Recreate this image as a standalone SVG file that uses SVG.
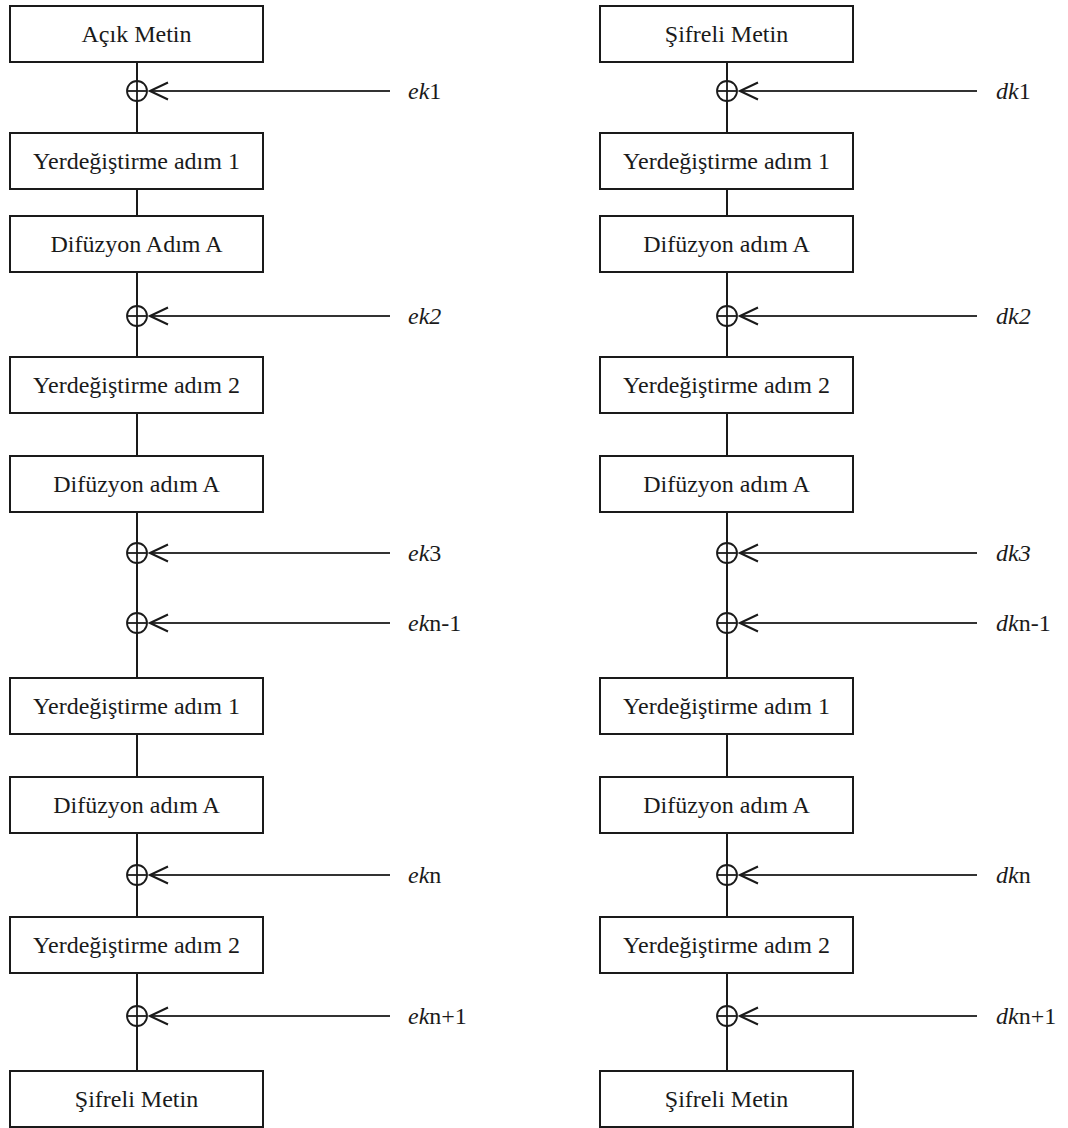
<svg xmlns="http://www.w3.org/2000/svg" width="1068" height="1128" viewBox="0 0 1068 1128">
  <style>
    .box rect { fill: #fff; stroke: #1a1a1a; stroke-width: 2; }
    .box text { font-family: "Liberation Serif", "DejaVu Serif", "Times New Roman", serif; font-size: 24px; fill: #1a1a1a; text-anchor: middle; }
    .wire { stroke: #1a1a1a; stroke-width: 2; fill: none; }
    .key { stroke: #333; stroke-width: 2; fill: none; marker-end: url(#chev); }
    .xor circle { fill: #fff; stroke: #1a1a1a; stroke-width: 1.8; }
    .xor line { stroke: #1a1a1a; stroke-width: 1.8; }
    .lbl { font-family: "Liberation Serif", "DejaVu Serif", "Times New Roman", serif; font-size: 24px; fill: #1a1a1a; }
    .it { font-style: italic; }
  </style>
  <defs>
    <marker id="chev" viewBox="-20 -10 22 20" refX="0" refY="0" markerWidth="22" markerHeight="20" markerUnits="userSpaceOnUse" orient="auto">
      <path d="M -18 -8.5 L 0 0 L -18 8.5" fill="none" stroke="#1a1a1a" stroke-width="2"/>
    </marker>
  </defs>
  <rect width="1068" height="1128" fill="#fff"/>

  <!-- vertical data path + key inputs -->
  <g id="connectors">
    <!-- encryption column -->
    <line class="wire" x1="137" y1="62" x2="137" y2="133"/>
    <line class="wire" x1="137" y1="189" x2="137" y2="216"/>
    <line class="wire" x1="137" y1="272" x2="137" y2="357"/>
    <line class="wire" x1="137" y1="413" x2="137" y2="456"/>
    <line class="wire" x1="137" y1="512" x2="137" y2="678"/>
    <line class="wire" x1="137" y1="734" x2="137" y2="777"/>
    <line class="wire" x1="137" y1="833" x2="137" y2="917"/>
    <line class="wire" x1="137" y1="973" x2="137" y2="1071"/>
    <line class="key" x1="390" y1="91" x2="150" y2="91"/>
    <line class="key" x1="390" y1="316" x2="150" y2="316"/>
    <line class="key" x1="390" y1="553" x2="150" y2="553"/>
    <line class="key" x1="390" y1="623" x2="150" y2="623"/>
    <line class="key" x1="390" y1="875" x2="150" y2="875"/>
    <line class="key" x1="390" y1="1016" x2="150" y2="1016"/>
    <!-- decryption column -->
    <line class="wire" x1="727" y1="62" x2="727" y2="133"/>
    <line class="wire" x1="727" y1="189" x2="727" y2="216"/>
    <line class="wire" x1="727" y1="272" x2="727" y2="357"/>
    <line class="wire" x1="727" y1="413" x2="727" y2="456"/>
    <line class="wire" x1="727" y1="512" x2="727" y2="678"/>
    <line class="wire" x1="727" y1="734" x2="727" y2="777"/>
    <line class="wire" x1="727" y1="833" x2="727" y2="917"/>
    <line class="wire" x1="727" y1="973" x2="727" y2="1071"/>
    <line class="key" x1="977" y1="91" x2="740" y2="91"/>
    <line class="key" x1="977" y1="316" x2="740" y2="316"/>
    <line class="key" x1="977" y1="553" x2="740" y2="553"/>
    <line class="key" x1="977" y1="623" x2="740" y2="623"/>
    <line class="key" x1="977" y1="875" x2="740" y2="875"/>
    <line class="key" x1="977" y1="1016" x2="740" y2="1016"/>
  </g>

  <!-- XOR junctions -->
  <g id="xor-e1" class="xor"><circle cx="137" cy="91" r="10"/><line x1="137" y1="81" x2="137" y2="101"/><line x1="127" y1="91" x2="147" y2="91"/></g>
  <g id="xor-e2" class="xor"><circle cx="137" cy="316" r="10"/><line x1="137" y1="306" x2="137" y2="326"/><line x1="127" y1="316" x2="147" y2="316"/></g>
  <g id="xor-e3" class="xor"><circle cx="137" cy="553" r="10"/><line x1="137" y1="543" x2="137" y2="563"/><line x1="127" y1="553" x2="147" y2="553"/></g>
  <g id="xor-e4" class="xor"><circle cx="137" cy="623" r="10"/><line x1="137" y1="613" x2="137" y2="633"/><line x1="127" y1="623" x2="147" y2="623"/></g>
  <g id="xor-e5" class="xor"><circle cx="137" cy="875" r="10"/><line x1="137" y1="865" x2="137" y2="885"/><line x1="127" y1="875" x2="147" y2="875"/></g>
  <g id="xor-e6" class="xor"><circle cx="137" cy="1016" r="10"/><line x1="137" y1="1006" x2="137" y2="1026"/><line x1="127" y1="1016" x2="147" y2="1016"/></g>
  <g id="xor-d1" class="xor"><circle cx="727" cy="91" r="10"/><line x1="727" y1="81" x2="727" y2="101"/><line x1="717" y1="91" x2="737" y2="91"/></g>
  <g id="xor-d2" class="xor"><circle cx="727" cy="316" r="10"/><line x1="727" y1="306" x2="727" y2="326"/><line x1="717" y1="316" x2="737" y2="316"/></g>
  <g id="xor-d3" class="xor"><circle cx="727" cy="553" r="10"/><line x1="727" y1="543" x2="727" y2="563"/><line x1="717" y1="553" x2="737" y2="553"/></g>
  <g id="xor-d4" class="xor"><circle cx="727" cy="623" r="10"/><line x1="727" y1="613" x2="727" y2="633"/><line x1="717" y1="623" x2="737" y2="623"/></g>
  <g id="xor-d5" class="xor"><circle cx="727" cy="875" r="10"/><line x1="727" y1="865" x2="727" y2="885"/><line x1="717" y1="875" x2="737" y2="875"/></g>
  <g id="xor-d6" class="xor"><circle cx="727" cy="1016" r="10"/><line x1="727" y1="1006" x2="727" y2="1026"/><line x1="717" y1="1016" x2="737" y2="1016"/></g>

  <!-- key labels -->
  <g id="keys-enc">
    <text class="lbl" x="408" y="99"><tspan class="it">ek</tspan>1</text>
    <text class="lbl it" x="408" y="324">ek2</text>
    <text class="lbl" x="408" y="561"><tspan class="it">ek</tspan>3</text>
    <text class="lbl" x="408" y="631"><tspan class="it">ek</tspan>n-1</text>
    <text class="lbl" x="408" y="883"><tspan class="it">ek</tspan>n</text>
    <text class="lbl" x="408" y="1024"><tspan class="it">ek</tspan>n+1</text>
  </g>
  <g id="keys-dec">
    <text class="lbl" x="996" y="99"><tspan class="it">dk</tspan>1</text>
    <text class="lbl it" x="996" y="324">dk2</text>
    <text class="lbl it" x="996" y="561">dk3</text>
    <text class="lbl" x="996" y="631"><tspan class="it">dk</tspan>n-1</text>
    <text class="lbl" x="996" y="883"><tspan class="it">dk</tspan>n</text>
    <text class="lbl" x="996" y="1024"><tspan class="it">dk</tspan>n+1</text>
  </g>

  <!-- encryption blocks -->
  <g id="enc-plaintext" class="box"><rect x="10" y="6" width="253" height="56"/><text x="136.5" y="42">Açık Metin</text></g>
  <g id="enc-sub1" class="box"><rect x="10" y="133" width="253" height="56"/><text x="136.5" y="169">Yerdeğiştirme adım 1</text></g>
  <g id="enc-diff1" class="box"><rect x="10" y="216" width="253" height="56"/><text x="136.5" y="252">Difüzyon Adım A</text></g>
  <g id="enc-sub2" class="box"><rect x="10" y="357" width="253" height="56"/><text x="136.5" y="393">Yerdeğiştirme adım 2</text></g>
  <g id="enc-diff2" class="box"><rect x="10" y="456" width="253" height="56"/><text x="136.5" y="492">Difüzyon adım A</text></g>
  <g id="enc-sub3" class="box"><rect x="10" y="678" width="253" height="56"/><text x="136.5" y="714">Yerdeğiştirme adım 1</text></g>
  <g id="enc-diff3" class="box"><rect x="10" y="777" width="253" height="56"/><text x="136.5" y="813">Difüzyon adım A</text></g>
  <g id="enc-sub4" class="box"><rect x="10" y="917" width="253" height="56"/><text x="136.5" y="953">Yerdeğiştirme adım 2</text></g>
  <g id="enc-ciphertext" class="box"><rect x="10" y="1071" width="253" height="56"/><text x="136.5" y="1107">Şifreli Metin</text></g>

  <!-- decryption blocks -->
  <g id="dec-ciphertext" class="box"><rect x="600" y="6" width="253" height="56"/><text x="726.5" y="42">Şifreli Metin</text></g>
  <g id="dec-sub1" class="box"><rect x="600" y="133" width="253" height="56"/><text x="726.5" y="169">Yerdeğiştirme adım 1</text></g>
  <g id="dec-diff1" class="box"><rect x="600" y="216" width="253" height="56"/><text x="726.5" y="252">Difüzyon adım A</text></g>
  <g id="dec-sub2" class="box"><rect x="600" y="357" width="253" height="56"/><text x="726.5" y="393">Yerdeğiştirme adım 2</text></g>
  <g id="dec-diff2" class="box"><rect x="600" y="456" width="253" height="56"/><text x="726.5" y="492">Difüzyon adım A</text></g>
  <g id="dec-sub3" class="box"><rect x="600" y="678" width="253" height="56"/><text x="726.5" y="714">Yerdeğiştirme adım 1</text></g>
  <g id="dec-diff3" class="box"><rect x="600" y="777" width="253" height="56"/><text x="726.5" y="813">Difüzyon adım A</text></g>
  <g id="dec-sub4" class="box"><rect x="600" y="917" width="253" height="56"/><text x="726.5" y="953">Yerdeğiştirme adım 2</text></g>
  <g id="dec-plaintext" class="box"><rect x="600" y="1071" width="253" height="56"/><text x="726.5" y="1107">Şifreli Metin</text></g>
</svg>
